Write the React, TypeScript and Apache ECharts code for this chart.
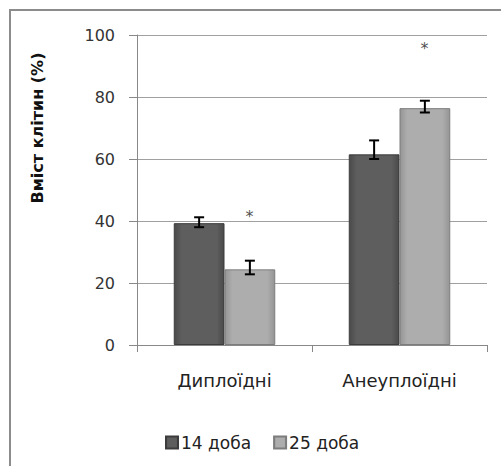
import React, { useEffect, useRef } from "react";
import * as echarts from "echarts";

const categories = ["Диплоїдні", "Анеуплоїдні"];
const seriesNames = ["14 доба", "25 доба"];
const values14 = [39.3, 61.5];
const values25 = [24.4, 76.4];
const errLow14 = [38.0, 60.0];
const errHigh14 = [41.2, 66.0];
const errLow25 = [22.8, 75.0];
const errHigh25 = [27.2, 78.8];
const star25 = [41.5, 95.6];
const yTicks = { min: 0, max: 100, interval: 20 };
const yTitle = "Вміст клітин (%)";

const FONT = "DejaVu Sans";

function makeErr(name: string, low: number[], high: number[], side: number) {
  return {
    type: "custom",
    name: name + "-err",
    z: 10,
    itemStyle: { color: "#000" },
    renderItem: (params: any, api: any) => {
      const idx = api.value(0);
      const lo = api.coord([idx, api.value(1)]);
      const hi = api.coord([idx, api.value(2)]);
      const catW = api.size([1, 0])[0];
      const bw = (catW * (1 - 0.42)) / 2;
      const x = lo[0] + side * bw / 2;
      const cap = 5;
      const st = { stroke: "#000", lineWidth: 2 };
      return {
        type: "group",
        children: [
          { type: "line", shape: { x1: x, y1: lo[1], x2: x, y2: hi[1] }, style: st },
          { type: "line", shape: { x1: x - cap, y1: lo[1], x2: x + cap, y2: lo[1] }, style: st },
          { type: "line", shape: { x1: x - cap, y1: hi[1], x2: x + cap, y2: hi[1] }, style: st },
        ],
      };
    },
    data: categories.map((_, i) => [i, low[i], high[i]]),
    silent: true,
    tooltip: { show: false },
  };
}

export default function App() {
  const ref = useRef<HTMLDivElement>(null);
  useEffect(() => {
    document.body.style.margin = "0";
    const chart = echarts.init(ref.current!, null, { renderer: "svg" });
    const darkGrad = new echarts.graphic.LinearGradient(0, 0, 1, 0, [
      { offset: 0, color: "#4a4a4a" },
      { offset: 0.15, color: "#5e5e5e" },
      { offset: 0.85, color: "#5e5e5e" },
      { offset: 1, color: "#4a4a4a" },
    ]);
    const lightGrad = new echarts.graphic.LinearGradient(0, 0, 1, 0, [
      { offset: 0, color: "#959595" },
      { offset: 0.15, color: "#adadad" },
      { offset: 0.85, color: "#adadad" },
      { offset: 1, color: "#959595" },
    ]);
    chart.setOption({
      animation: false,
      textStyle: { fontFamily: FONT },
      graphic: [
        {
          type: "rect",
          shape: { x: 10, y: 10, width: 600, height: 600 },
          style: { fill: "none", stroke: "#8c8c8c", lineWidth: 2 },
          z: 100,
        },
        {
          type: "text",
          x: 37,
          y: 128,
          rotation: Math.PI / 2,
          style: {
            text: yTitle,
            font: `bold 16px ${FONT}`,
            fill: "#111",
            align: "center",
            verticalAlign: "middle",
          },
        },
      ],
      legend: {
        left: 160,
        top: 429,
        itemWidth: 12,
        itemHeight: 12,
        itemGap: 22,
        icon: "rect",
        data: seriesNames,
        textStyle: { fontSize: 17, color: "#222", fontFamily: FONT, padding: [0, 0, 0, -2] },
      },
      grid: { left: 137, right: 14, top: 35, bottom: 121, containLabel: false },
      xAxis: {
        type: "category",
        data: categories,
        axisLine: { lineStyle: { color: "#888", width: 1 } },
        axisTick: { show: true, length: 7, lineStyle: { color: "#888" } },
        axisLabel: { fontSize: 18, color: "#222", margin: 26, fontFamily: FONT },
      },
      yAxis: {
        type: "value",
        min: yTicks.min,
        max: yTicks.max,
        interval: yTicks.interval,
        axisLine: { show: true, lineStyle: { color: "#888", width: 1 } },
        axisTick: { show: true, length: 8, lineStyle: { color: "#888" } },
        axisLabel: { fontSize: 16, color: "#333", margin: 22, fontFamily: FONT },
        splitLine: { lineStyle: { color: "#a0a0a0", width: 1 } },
      },
      series: [
        {
          type: "bar",
          name: seriesNames[0],
          data: values14,
          barGap: "0%",
          barCategoryGap: "42%",
          itemStyle: { color: darkGrad, borderColor: "#3c3c3c", borderWidth: 1 },
        },
        {
          type: "bar",
          name: seriesNames[1],
          data: values25,
          barGap: "0%",
          barCategoryGap: "42%",
          itemStyle: { color: lightGrad, borderColor: "#7c7c7c", borderWidth: 1 },
        },
        makeErr(seriesNames[0], errLow14, errHigh14, -1),
        makeErr(seriesNames[1], errLow25, errHigh25, 1),
        {
          type: "scatter",
          name: "stars",
          data: star25,
          symbolSize: 0,
          itemStyle: { color: "#222" },
          z: 10,
          silent: true,
          label: {
            show: true,
            formatter: "*",
            position: "inside",
            offset: [25, 0],
            color: "#222",
            fontSize: 16,
            fontFamily: FONT,
          },
        },
      ],
    });
    return () => chart.dispose();
  }, []);
  return <div ref={ref} style={{ width: 501, height: 466 }} />;
}
